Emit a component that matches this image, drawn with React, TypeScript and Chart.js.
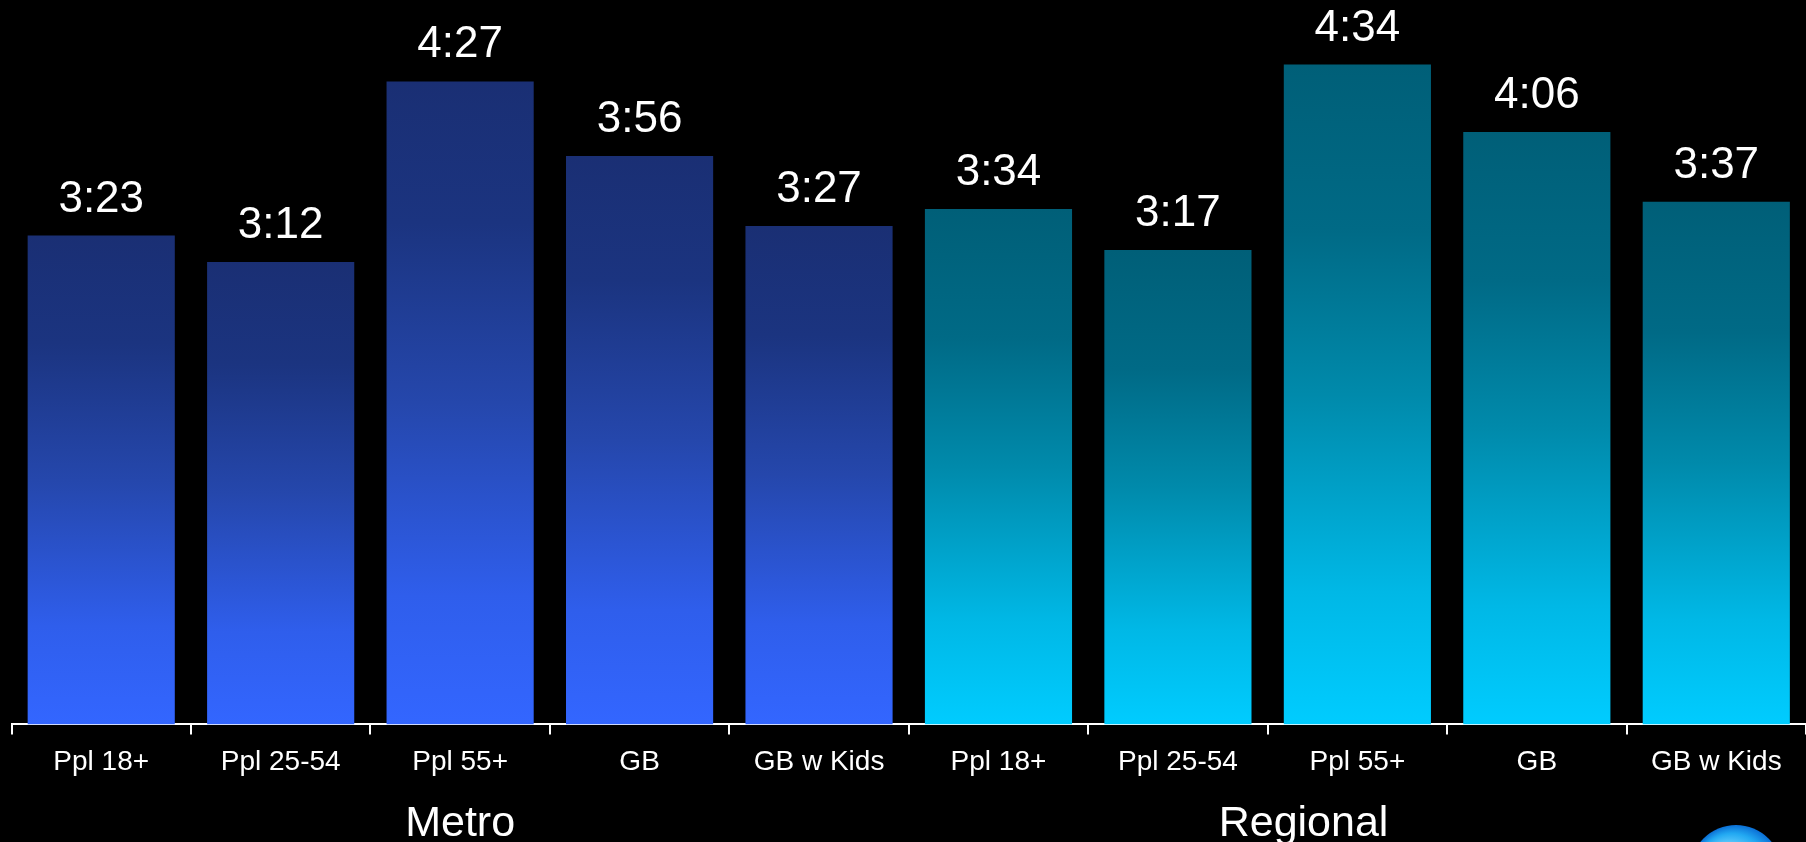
import React, { useEffect, useRef } from "react";
import { Chart, registerables } from "chart.js";

Chart.register(...registerables);

// ---- Data ----
const categories = ["Ppl 18+", "Ppl 25-54", "Ppl 55+", "GB", "GB w Kids", "Ppl 18+", "Ppl 25-54", "Ppl 55+", "GB", "GB w Kids"];
const groupNames = ["Metro", "Regional"];
const groupOfCategory = [0, 0, 0, 0, 0, 1, 1, 1, 1, 1];
// time spent, in minutes (h:mm)
const minutesValues = [203, 192, 267, 236, 207, 214, 197, 274, 246, 217];

// ---- Styles ----
const metroStops: [number, string][] = [
  [0, "#1a2f74"],
  [0.22, "#1b3480"],
  [0.5, "#2547ac"],
  [0.8, "#2f5eec"],
  [1, "#3366ff"],
];
const regionalStops: [number, string][] = [
  [0, "#005f78"],
  [0.25, "#006a86"],
  [0.5, "#008aab"],
  [0.8, "#00b8e6"],
  [1, "#00ccff"],
];
const FONT = '"Liberation Sans", Arial, sans-serif';
// anchor (in category units) for each group caption
const groupCaptionAnchor = [2, 6.7];

function fmt(m: number): string {
  const h = Math.floor(m / 60);
  const mm = m % 60;
  return `${h}:${String(mm).padStart(2, "0")}`;
}

const labelsPlugin = {
  id: "valueAndGroupLabels",
  afterDatasetsDraw(chart: any) {
    const ctx = chart.ctx;
    const meta = chart.getDatasetMeta(0);
    ctx.save();
    ctx.fillStyle = "#ffffff";
    ctx.textAlign = "center";
    ctx.textBaseline = "alphabetic";
    ctx.font = `44px ${FONT}`;
    meta.data.forEach((bar: any, i: number) => {
      ctx.fillText(fmt(minutesValues[i]), bar.x, bar.y - 24);
    });
    ctx.font = `43px ${FONT}`;
    const xs = chart.scales.x;
    groupNames.forEach((g, gi) => {
      ctx.fillText(g, xs.getPixelForValue(groupCaptionAnchor[gi]), 836);
    });
    // partial logo sphere at the bottom right corner
    const cx = 1736, cy = 871, r = 46;
    const grad = ctx.createRadialGradient(cx - 16, cy - 8, 4, cx, cy, r);
    grad.addColorStop(0, "#e6f8ff");
    grad.addColorStop(0.35, "#72d4ff");
    grad.addColorStop(0.75, "#22a9f2");
    grad.addColorStop(1, "#0b6fd6");
    ctx.beginPath();
    ctx.arc(cx, cy, r, 0, Math.PI * 2);
    ctx.fillStyle = grad;
    ctx.fill();
    ctx.restore();
  },
};

export default function App() {
  const canvasRef = useRef<HTMLCanvasElement | null>(null);

  useEffect(() => {
    if (!canvasRef.current) return;
    const chart = new Chart(canvasRef.current, {
      type: "bar",
      data: {
        labels: categories,
        datasets: [
          {
            data: minutesValues,
            backgroundColor: (c: any) => {
              const stops = groupOfCategory[c.dataIndex ?? 0] === 0 ? metroStops : regionalStops;
              const chartObj = c.chart;
              if (c.type !== "data" || !chartObj.chartArea) return stops[stops.length - 1][1];
              const ys = chartObj.scales.y;
              const top = ys.getPixelForValue(c.raw);
              const bottom = ys.getPixelForValue(0);
              const g = chartObj.ctx.createLinearGradient(0, top, 0, bottom);
              stops.forEach(([o, col]) => g.addColorStop(o, col));
              return g;
            },
            borderWidth: 0,
            barPercentage: 0.82,
            categoryPercentage: 1,
          },
        ],
      },
      options: {
        responsive: false,
        animation: false,
        devicePixelRatio: 1,
        layout: { padding: { left: 11.5, right: 0, top: 2, bottom: 52 } },
        plugins: {
          legend: { display: false },
          tooltip: { enabled: false },
        },
        scales: {
          x: {
            grid: {
              display: true,
              drawOnChartArea: false,
              drawTicks: true,
              tickLength: 10,
              color: "#ffffff",
              lineWidth: 2,
              offset: true,
            },
            border: { display: true, color: "#ffffff", width: 2 },
            ticks: {
              color: "#ffffff",
              font: { family: FONT, size: 28 },
              padding: 11,
              maxRotation: 0,
              autoSkip: false,
            },
          },
          y: {
            display: false,
            min: 0,
            max: 300,
          },
        },
      },
      plugins: [labelsPlugin],
    });
    return () => chart.destroy();
  }, []);

  return (
    <div style={{ position: "fixed", left: 0, top: 0, width: 1806, height: 842, background: "#000", overflow: "hidden" }}>
      <canvas ref={canvasRef} width={1806} height={842} style={{ display: "block" }} />
    </div>
  );
}
